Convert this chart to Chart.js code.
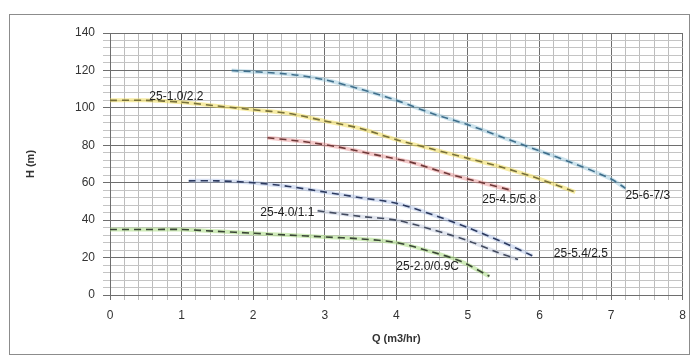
<!DOCTYPE html>
<html>
<head>
<meta charset="utf-8">
<script src="https://cdn.jsdelivr.net/npm/chart.js@4"></script>
<style>
  html, body { margin: 0; padding: 0; background: #fff; }
  #wrap { width: 694px; height: 358px; }
</style>
</head>
<body>
<div id="wrap"><canvas id="grafico" width="694" height="358"></canvas></div>
<script>
// curvas Q x H
const q1 = [1.7, 2.5, 3.0, 3.5, 4.0, 4.5, 5.0, 5.5, 6.0, 6.5, 7.0, 7.2];
const h1 = [120, 118, 115, 110, 104, 97, 91, 84, 77, 70, 62, 57];

const q2 = [0, 0.5, 1.0, 1.5, 2.0, 2.5, 3.0, 3.5, 4.0, 4.5, 5.0, 5.5, 6.0, 6.5];
const h2 = [104, 104, 103, 101, 99, 97, 93, 89, 83, 78, 73, 68, 62, 55];

const q3 = [2.2, 2.7, 3.2, 3.7, 4.2, 4.7, 5.2, 5.6];
const h3 = [84, 82, 79, 75, 71, 65, 60, 56];

const q4 = [1.1, 1.5, 2.0, 2.5, 3.0, 3.5, 4.0, 4.5, 5.0, 5.5, 5.9];
const h4 = [61, 61, 60, 58, 55, 52, 49, 43, 36, 28, 21];

const q5 = [2.9, 3.5, 4.0, 4.5, 5.0, 5.4, 5.7];
const h5 = [45, 42, 40, 35, 29, 23, 19];

const q6 = [0, 0.5, 1.0, 1.5, 2.0, 2.5, 3.0, 3.5, 4.0, 4.5, 4.9, 5.3];
const h6 = [35, 35, 35, 34, 33, 32, 31, 30, 28, 23, 18, 10];

// rótulos das curvas
const rotulos = ['25-6-7/3', '25-1.0/2.2', '25-4.5/5.8', '25-5.4/2.5', '25-4.0/1.1', '25-2.0/0.9C'];
const rotuloQ = [7.2, 0.55, 5.2, 6.2, 2.1, 4.0];
const rotuloH = [53, 106, 51, 22, 44, 15];

const coresCurva = ['rgba(143,192,216,0.45)', 'rgba(240,220,90,0.55)', 'rgba(232,140,140,0.45)',
                    'rgba(170,190,230,0.45)', 'rgba(190,200,220,0.45)', 'rgba(170,220,130,0.55)'];
const coresTraco = ['#3f6f8c', '#77703a', '#6e3838', '#2c3a60', '#434b5f', '#3a4636'];

function pontos(qs, hs) {
    return qs.map((q, i) => ({ x: q, y: hs[i] }));
}

const curvas = [[q1, h1], [q2, h2], [q3, h3], [q4, h4], [q5, h5], [q6, h6]];
const datasets = [];
curvas.forEach((c, i) => {
    // faixa colorida por baixo
    datasets.push({
        data: pontos(c[0], c[1]),
        borderColor: coresCurva[i],
        borderWidth: 4,
        pointRadius: 0,
        tension: 0.3,
        order: 2
    });
    // traço tracejado por cima
    datasets.push({
        data: pontos(c[0], c[1]),
        borderColor: coresTraco[i],
        borderWidth: 1.6,
        borderDash: [7, 5],
        pointRadius: 0,
        tension: 0.3,
        order: 1
    });
});

const moldura = {
    id: 'moldura',
    beforeDraw(chart) {
        const ctx = chart.ctx;
        ctx.save();
        ctx.strokeStyle = '#8c8c8c';
        ctx.lineWidth = 1;
        ctx.strokeRect(9.5, 14.5, 680, 340);
        ctx.restore();
    }
};

const textos = {
    id: 'textos',
    afterDatasetsDraw(chart) {
        const ctx = chart.ctx;
        const sx = chart.scales.x, sy = chart.scales.y;
        ctx.save();
        ctx.font = '12px "Liberation Sans", sans-serif';
        ctx.fillStyle = '#222';
        ctx.textBaseline = 'middle';
        ctx.textAlign = 'left';
        rotulos.forEach((t, i) => {
            ctx.fillText(t, sx.getPixelForValue(rotuloQ[i]), sy.getPixelForValue(rotuloH[i]));
        });
        ctx.restore();
    }
};

function inteiro(v) {
    return Math.abs(v - Math.round(v)) < 1e-6;
}

const ctx = document.getElementById('grafico').getContext('2d');
new Chart(ctx, {
    type: 'line',
    data: { datasets: datasets },
    plugins: [moldura, textos],
    options: {
        responsive: false,
        animation: false,
        layout: { padding: { left: 20, top: 33, right: 6, bottom: 8 } },
        plugins: {
            legend: { display: false },
            tooltip: { enabled: false }
        },
        scales: {
            x: {
                type: 'linear',
                min: 0,
                max: 8,
                afterBuildTicks(scale) {
                    const t = [];
                    for (let i = 0; i <= 40; i++) t.push({ value: i / 5 });
                    scale.ticks = t;
                },
                afterFit(scale) { scale.height = 55; },
                grid: {
                    color: c => inteiro(c.tick.value) ? '#6e6e6e' : '#bdbdbd',
                    tickLength: 5,
                    drawTicks: true
                },
                border: { color: '#6e6e6e' },
                ticks: {
                    autoSkip: false,
                    maxRotation: 0,
                    padding: 8,
                    color: '#333',
                    font: { family: '"Liberation Sans", sans-serif', size: 12 },
                    callback: v => inteiro(v) ? Math.round(v) : ''
                },
                title: {
                    display: true,
                    text: 'Q (m3/hr)',
                    color: '#333',
                    font: { family: '"Liberation Sans", sans-serif', size: 11, weight: 'bold' },
                    padding: { top: 4 }
                }
            },
            y: {
                min: 0,
                max: 140,
                afterBuildTicks(scale) {
                    const t = [];
                    for (let v = 0; v <= 140; v += 4) t.push({ value: v });
                    scale.ticks = t;
                },
                afterFit(scale) { scale.width = 90; },
                grid: {
                    color: c => c.tick.value % 20 === 0 ? '#6e6e6e' : '#c4c4c4',
                    tickLength: 7
                },
                border: { color: '#6e6e6e' },
                ticks: {
                    autoSkip: false,
                    padding: 8,
                    color: '#333',
                    font: { family: '"Liberation Sans", sans-serif', size: 12 },
                    callback: v => v % 20 === 0 ? v : ''
                },
                title: {
                    display: true,
                    text: 'H (m)',
                    color: '#333',
                    font: { family: '"Liberation Sans", sans-serif', size: 11, weight: 'bold' },
                    padding: { bottom: 14 }
                }
            }
        }
    }
});
</script>
</body>
</html>
